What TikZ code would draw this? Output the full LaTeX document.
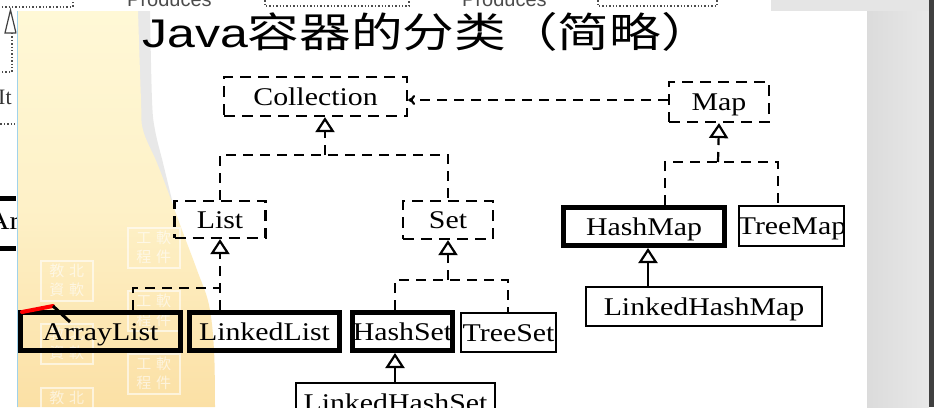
\documentclass[tikz,border=0pt]{standalone}
\usepackage{fontspec}
\usepackage{graphicx}
\setmainfont{Liberation Serif}
\newfontfamily\cjk{Noto Sans CJK SC}
\newfontfamily\arialf{Liberation Sans}
\usetikzlibrary{arrows.meta}
\newcommand{\hstr}[1]{\scalebox{1.17}[1]{#1}}
\definecolor{beigeT}{RGB}{255,248,214}
\definecolor{beigeB}{RGB}{251,224,165}
\definecolor{edgeblue}{RGB}{160,210,235}
\tikzset{
 lbl/.style={font=\fontsize{25.5}{28}\selectfont, inner sep=0pt, text height=17.5pt, text depth=0pt},
 dbox/.style={lbl, draw, line width=2.2pt, dash pattern=on 11pt off 7pt},
 thickbox/.style={lbl, draw, line width=5pt},
 thinbox/.style={lbl, draw, line width=2.2pt},
 dline/.style={line width=2.2pt, dash pattern=on 10pt off 7pt},
 sline/.style={line width=2.2pt},
 tri/.style={-{Triangle[length=15pt,width=19pt,fill=white]}},
 dots/.style={line width=1.4pt, dash pattern=on 1.4pt off 2pt, black!70},
 wm/.style={draw=white, line width=1.5pt, opacity=0.6, text=white, inner sep=0pt,
   minimum width=52pt, minimum height=40pt, font=\cjk\fontsize{15}{19}\selectfont, align=center},
}
\begin{document}
\begin{tikzpicture}[x=1pt,y=-1pt]
\useasboundingbox (0,0) rectangle (934,407);
\clip (0,0) rectangle (934,407);
% backgrounds
\fill[white] (0,0) rectangle (934,407);
\fill[black!10] (771,0) rectangle (934,11);
\shade[left color=black!14, right color=black!9] (867,11) rectangle (929,407);
\fill[black!75] (929,0) rectangle (934,407);
\fill[black!9] (130,11)
  -- plot[smooth, tension=0.6] coordinates {(150,11) (152,100) (155,130) (163,163) (172,200)}
  -- (130,200) -- cycle;
\shade[top color=beigeT, bottom color=beigeB, middle color=beigeT!70!beigeB]
  (17,11)
  -- plot[smooth, tension=0.6] coordinates {(138,11) (141,100) (143,130) (157,163) (170,197) (182,230) (197,270) (209,305) (214,350) (215,407)}
  -- (17,407) -- cycle;
\draw[edgeblue, line width=1pt] (17,11) -- (17,407);
% watermarks
\foreach \y in {260,323,387}
  \node[wm, anchor=north west] (wmA\y) at (40,\y) {教\,\,北\\資\,\,軟};
\foreach \y in {227,290,353}
  \node[wm, anchor=north west] (wmB\y) at (127,\y) {工\,\,軟\\程\,\,件};
% top fragments of the previous slide
\begin{scope}
\clip (0,0) rectangle (771,11);
\node[font=\arialf\fontsize{20}{20}\selectfont, text=black!70, anchor=base west, inner sep=0pt] (prodA) at (127,6) {Produces};
\node[font=\arialf\fontsize{20}{20}\selectfont, text=black!70, anchor=base west, inner sep=0pt] (prodB) at (462,6) {Produces};
\draw[dots] (-5,-10) rectangle (73,7);
\draw[dots] (265,-10) rectangle (409,6);
\draw[dots] (598,-10) rectangle (717,6);
\end{scope}
% left fragments of the previous slide
\begin{scope}
\clip (0,0) rectangle (16.3,407);
\draw[black!75, line width=1.2pt] (5,33) -- (16,33) -- (10.5,10) -- cycle;
\draw[dots] (12,33) -- (12,72) -- (-3,72);
\node[font=\fontsize{22}{24}\selectfont, anchor=base west, inner sep=0pt, text=black!80] (itfrag) at (-2,104) {It};
\draw[dots] (-3,124) -- (17,124);
\draw[line width=5pt] (-5,198) -- (16,198);
\draw[line width=5pt] (-5,248) -- (16,248);
\node[font=\fontsize{25.5}{28}\selectfont, inner sep=0pt, anchor=base west] (arfrag) at (-12,229) {\hstr{Ar}};
\end{scope}
% title
\node[anchor=base west, inner sep=0pt, font=\fontsize{40}{44}\selectfont] (title) at (142,47)
  {\scalebox{1.25}[1]{\arialf Java}\scalebox{1.26}[1]{\cjk\fontsize{41}{44}\selectfont 容器的分类（简略）}};
% boxes
\node[dbox, minimum width=183pt, minimum height=39pt] (coll) at (315.5,96.5) {\hstr{Collection}};
\node[dbox, minimum width=100pt, minimum height=40pt] (map) at (719,102) {\hstr{Map}};
\node[dbox, minimum width=91pt, minimum height=37pt] (list) at (220,219.5) {\hstr{List}};
\node[dbox, minimum width=90pt, minimum height=38pt] (set) at (448,220) {\hstr{Set}};
\node[thickbox, minimum width=160pt, minimum height=38pt] (arraylist) at (100.5,331.5) {\hstr{ArrayList}};
\node[thickbox, minimum width=150pt, minimum height=38pt] (linkedlist) at (264.5,331.5) {\hstr{LinkedList}};
\node[thickbox, minimum width=100pt, minimum height=38pt] (hashset) at (402.5,331.5) {\hstr{HashSet}};
\node[thinbox, minimum width=95pt, minimum height=39pt] (treeset) at (508.5,332.5) {\hstr{TreeSet}};
\node[thinbox, minimum width=199pt, minimum height=40pt] (lhset) at (395.5,403) {\hstr{LinkedHashSet}};
\node[thickbox, minimum width=161pt, minimum height=38pt] (hashmap) at (644,226.5) {\hstr{HashMap}};
\node[thinbox, minimum width=105pt, minimum height=40pt] (treemap) at (791.5,226) {};
\node[lbl] (treemaplabel) at (792,226) {\hstr{TreeMap}};
\node[thinbox, minimum width=236pt, minimum height=39pt] (lhmap) at (704,306.5) {\hstr{LinkedHashMap}};
% junctions
\coordinate (cj) at (325,155);
\coordinate (lj) at (220,288);
\coordinate (al) at (133,288);
\coordinate (sj) at (448,280);
\coordinate (hs) at (395,280);
\coordinate (ts) at (508,280);
\coordinate (mj) at (718,162);
\coordinate (hmj) at (665,162);
\coordinate (tmj) at (778,162);
% connectors
\draw[dline] (list.north) |- (cj) -| (set.north);
\draw[dline, tri] (cj) -- (cj |- coll.south);
\draw[dline, tri] (lj |- linkedlist.north) -- (list.south);
\draw[dline] (al |- arraylist.north) |- (lj);
\draw[dline, tri] (sj) -- (set.south);
\draw[dline] (hs |- hashset.north) -- (hs) -- (ts) -- (ts |- treeset.north);
\draw[sline, tri] (hs |- lhset.north) -- (hs |- hashset.south);
\draw[dline, -{To[length=7pt,width=10pt]}] (map.west |- 0,100) -- (coll.east |- 0,100);
\draw[dline, tri] (mj) -- (map.south);
\draw[dline] (hmj |- hashmap.north) -- (hmj) -- (tmj) -- (tmj |- treemap.north);
\draw[sline, tri] (lhmap.north -| 648,0) -- (hashmap.south -| 648,0);
% pen annotation
\coordinate (penA) at (22,312);
\coordinate (penB) at (53,306);
\coordinate (penC) at (70,322);
\draw[red, line width=4pt, line cap=round] (penA) -- (penB);
\draw[black, line width=3pt] (penB) -- (penC);
\end{tikzpicture}
\end{document}
